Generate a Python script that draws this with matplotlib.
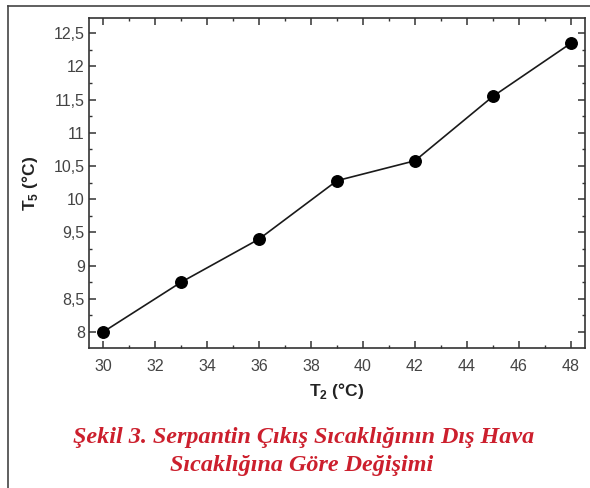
import matplotlib
matplotlib.use('Agg')
import matplotlib.pyplot as plt
from matplotlib.lines import Line2D
from matplotlib.ticker import MultipleLocator, FuncFormatter

# Dış hava sıcaklığı (T2) ve serpantin çıkış sıcaklığı (T5)
t2 = [30, 33, 36, 39, 42, 45, 48]
t5 = [8.0, 8.75, 9.4, 10.28, 10.58, 11.55, 12.35]

xticks = [30, 32, 34, 36, 38, 40, 42, 44, 46, 48]
yticks = [8, 8.5, 9, 9.5, 10, 10.5, 11, 11.5, 12, 12.5]

plt.rcParams['font.family'] = ['Liberation Sans', 'DejaVu Sans']
plt.rcParams['mathtext.fontset'] = 'custom'
plt.rcParams['mathtext.rm'] = 'Liberation Sans:bold'
plt.rcParams['mathtext.bf'] = 'Liberation Sans:bold'

fig = plt.figure(figsize=(5.9, 4.88), dpi=100)
ax = fig.add_axes([0.1508, 0.2869, 0.8407, 0.6762])

ax.plot(t2, t5, '-', color='#1a1a1a', lw=1.2)
ax.plot(t2, t5, 'o', color='black', ms=8.3)

ax.set_xlim(29.46, 48.54)
ax.set_ylim(7.76, 12.73)
ax.set_xticks(xticks)
ax.set_yticks(yticks)
ax.xaxis.set_minor_locator(MultipleLocator(1))
ax.yaxis.set_minor_locator(MultipleLocator(0.25))
virgul = FuncFormatter(lambda v, p: ('%g' % v).replace('.', ','))
ax.yaxis.set_major_formatter(virgul)

ax.tick_params(which='both', direction='in', top=True, right=True,
               colors='#333333', labelcolor='#444444')
ax.tick_params(which='major', length=5, width=1.1, labelsize=11.5)
ax.tick_params(which='minor', length=2.5, width=1.0)
ax.tick_params(axis='x', pad=8)
ax.tick_params(axis='y', pad=3)
for s in ax.spines.values():
    s.set_linewidth(1.2)
    s.set_color('#333333')

ax.set_xlabel(r'T$_{2}$ (°C)', fontsize=12.5, fontweight='bold', color='#222222', labelpad=5)
ax.set_ylabel(r'T$_{5}$ (°C)', fontsize=12.5, fontweight='bold', color='#222222', labelpad=10)

# çerçeve
fig.add_artist(Line2D([0.0136, 0.0136], [0.0, 0.9887], color='#444444', lw=1.2))
fig.add_artist(Line2D([0.0136, 1.0], [0.9887, 0.9887], color='#444444', lw=1.2))

kirmizi = '#cc1f2d'
fig.text(0.514, 1 - 437 / 488, 'Şekil 3. Serpantin Çıkış Sıcaklığının Dış Hava',
         ha='center', va='center', color=kirmizi, fontsize=17.4,
         family='Liberation Serif', fontweight='bold', fontstyle='italic')
fig.text(0.512, 1 - 466 / 488, 'Sıcaklığına Göre Değişimi',
         ha='center', va='center', color=kirmizi, fontsize=17.4,
         family='Liberation Serif', fontweight='bold', fontstyle='italic')

fig.savefig('out.png', dpi=100)
